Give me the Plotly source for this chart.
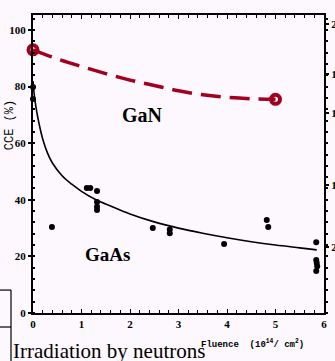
import plotly.graph_objects as go

# ---- data ----
gan_x = [0, 5]
gan_y = [93, 75.5]

gan_curve_x = [0, 0.5, 1, 1.5, 2, 2.5, 3, 3.5, 4, 4.5, 5]
gan_curve_y = [93, 89.8, 87.1, 84.6, 82.3, 80.4, 78.5, 77.1, 76.2, 75.7, 75.5]

gaas_x = [0, 0, 0.39, 1.11, 1.18, 1.32, 1.32, 1.32, 1.32, 2.47, 2.82, 2.82,
          3.94, 4.82, 4.85, 5.84, 5.84, 5.85, 5.86, 5.84]
gaas_y = [79.9, 75.6, 30.4, 44.2, 44.2, 43.1, 39.2, 37.5, 36.4, 30.0, 29.5, 28.2,
          24.4, 32.9, 30.4, 25.0, 18.7, 17.7, 16.5, 14.8]

fit_x = [0.0, 0.02, 0.05, 0.1, 0.2, 0.3, 0.4, 0.6, 0.8, 1.0, 1.3, 1.6, 2.0,
         2.5, 3.0, 3.5, 4.0, 4.5, 5.0, 5.5, 5.85]
fit_y = [82, 78, 74, 69, 61.5, 56.5, 53, 48.5, 45.5, 43, 40, 37.8, 35,
         32.2, 30, 28.2, 26.6, 25.2, 24, 23, 22.3]

x_ticks = [0, 1, 2, 3, 4, 5, 6]
y_ticks = [0, 20, 40, 60, 80, 100]
# right-hand axis: labels are cut off by the image edge, only fragments visible
right_tick_vals = [23.3, 45.2, 70.7, 84.5, 102]
right_tick_text = ["2", "1", "1", "1", "2"]

RED = "#a3001f"
BG = "#fdf8fd"
SERIF = "Liberation Serif, Times New Roman, serif"
MONO = "Liberation Mono, Courier New, monospace"

fig = go.Figure()

fig.add_trace(go.Scatter(x=fit_x, y=fit_y, mode="lines",
                         line=dict(color="black", width=1.6, shape="spline"),
                         hoverinfo="skip", showlegend=False))
fig.add_trace(go.Scatter(x=gaas_x, y=gaas_y, mode="markers",
                         marker=dict(color="black", size=6),
                         cliponaxis=False, showlegend=False))
fig.add_trace(go.Scatter(x=gan_curve_x, y=gan_curve_y, mode="lines",
                         line=dict(color=RED, width=3.5, dash="20px,9px", shape="spline"),
                         hoverinfo="skip", showlegend=False))
fig.add_trace(go.Scatter(x=gan_x, y=gan_y, mode="markers",
                         marker=dict(symbol="circle-open", color=RED, size=9,
                                     line=dict(color=RED, width=4)),
                         cliponaxis=False, showlegend=False))
# invisible trace to activate the right-hand axis
fig.add_trace(go.Scatter(x=[0], y=[0], yaxis="y2", mode="markers",
                         marker=dict(opacity=0), hoverinfo="skip", showlegend=False))

fig.add_annotation(x=2.25, y=70, text="<b>GaN</b>", showarrow=False,
                   font=dict(family=SERIF, size=20, color="black"))
fig.add_annotation(x=1.54, y=20.5, text="<b>GaAs</b>", showarrow=False,
                   font=dict(family=SERIF, size=19, color="black"))

fig.add_annotation(xref="paper", yref="paper", x=-0.075, y=-0.128,
                   xanchor="left", yanchor="middle", showarrow=False,
                   text="Irradiation by neutrons",
                   font=dict(family=SERIF, size=21, color="black"))
fig.add_annotation(xref="paper", yref="paper", x=0.7543, y=-0.104,
                   xanchor="center", yanchor="middle", showarrow=False,
                   text="<b>Fluence&nbsp;&nbsp;(10<sup>14</sup>/&nbsp;cm<sup>2</sup>)</b>",
                   font=dict(family=MONO, size=9, color="black"))
fig.add_annotation(xref="paper", yref="paper", x=-0.079, y=0.63,
                   xanchor="center", yanchor="middle", showarrow=False,
                   textangle=-90, text="CCE (%)",
                   font=dict(family=MONO, size=12, color="black"))

# fragment of a table at lower left
line_style = dict(color="black", width=1.2)
fig.add_shape(type="line", xref="paper", yref="paper", x0=-0.0756, x1=-0.0756,
              y0=0.077, y1=-0.17, line=line_style)
fig.add_shape(type="line", xref="paper", yref="paper", x0=-0.12, x1=-0.0756,
              y0=0.077, y1=0.077, line=line_style)
fig.add_shape(type="line", xref="paper", yref="paper", x0=-0.12, x1=-0.0756,
              y0=-0.047, y1=-0.047, line=line_style)

fig.update_layout(
    width=335, height=361,
    margin=dict(l=33, r=11, t=15, b=48, autoexpand=False),
    paper_bgcolor=BG, plot_bgcolor=BG,
    xaxis=dict(range=[0, 6], tickvals=x_ticks, showgrid=False, zeroline=False,
               automargin=False,
               showline=True, linecolor="black", linewidth=2, mirror="ticks",
               ticks="inside", ticklen=4, tickwidth=1.3, tickcolor="black",
               minor=dict(dtick=0.2, ticks="inside", ticklen=3, tickcolor="black"),
               tickfont=dict(family=SERIF, size=11, color="black", weight="bold")),
    yaxis=dict(range=[0, 105.3], tickvals=y_ticks, showgrid=False, zeroline=False,
               automargin=False,
               showline=True, linecolor="black", linewidth=2, mirror=True,
               ticks="outside", ticklen=3, tickwidth=1.5, tickcolor="black",
               minor=dict(dtick=4, ticks="inside", ticklen=2, tickcolor="black"),
               tickfont=dict(family=SERIF, size=11, color="black", weight="bold")),
    yaxis2=dict(range=[0, 105.3], overlaying="y", side="right", anchor="x",
                automargin=False,
                tickvals=right_tick_vals, ticktext=right_tick_text,
                showgrid=False, zeroline=False, showline=False,
                ticks="outside", ticklen=4, tickwidth=1.5, tickcolor="black",
                minor=dict(dtick=4, ticks="outside", ticklen=3, tickcolor="black"),
                tickfont=dict(family=SERIF, size=11, color="black", weight="bold")),
)

fig.write_html("out.html",
               config={"displayModeBar": False},
               post_script="document.body.style.margin='0';"
                           "document.body.style.padding='0';"
                           "document.body.style.overflow='hidden';")
